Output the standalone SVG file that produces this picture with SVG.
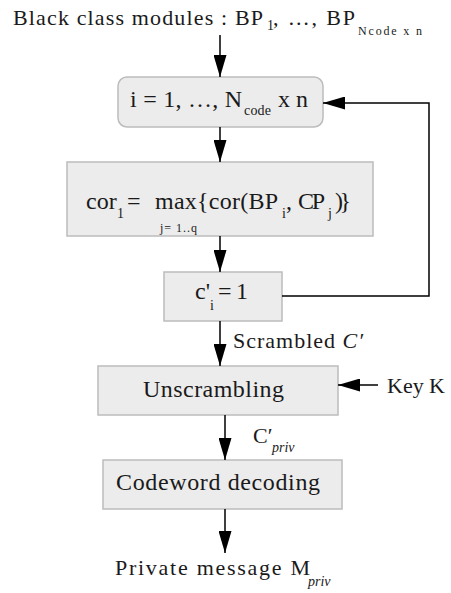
<svg xmlns="http://www.w3.org/2000/svg" width="451" height="593" viewBox="0 0 451 593">
<defs>
<marker id="ah" markerWidth="22" markerHeight="13" refX="22" refY="6.5" viewBox="0 0 22 13" orient="auto" markerUnits="userSpaceOnUse">
<path d="M0,0 L22,6.5 L0,13 Z" fill="#000"/>
</marker>
<style>
.box{fill:#ececec;stroke:#bcbcbc;stroke-width:1.5}
.t{font-family:"Liberation Serif","Times New Roman",serif;fill:#1a1a1a}
.m{font-size:24px}
.s{font-size:14px}
.xs{font-size:12px}
.it{font-style:italic}
.c{fill:none;stroke:#000;stroke-width:1.5}
</style>
</defs>
<rect width="451" height="593" fill="#fff"/>
<g id="title">
<text class="t" x="13" y="25" font-size="22" textLength="250" lengthAdjust="spacing">Black class modules : BP</text>
<text class="t s" x="267" y="30">1</text>
<text class="t" x="273" y="25" font-size="22" textLength="82" lengthAdjust="spacing">, …, BP</text>
<text class="t xs" x="358" y="35" textLength="64" lengthAdjust="spacing">Ncode x n</text>
</g>
<g id="loop">
<rect class="box" x="118" y="77" width="205" height="50" rx="9"/>
<text class="t m" x="130" y="107" textLength="112" lengthAdjust="spacing">i = 1, …, N</text>
<text class="t s" x="244" y="115" textLength="27" lengthAdjust="spacing">code</text>
<text class="t m" x="278" y="107" textLength="30" lengthAdjust="spacing">x n</text>
</g>
<g id="cor">
<rect class="box" x="67" y="162" width="306" height="74"/>
<text class="t m" x="86" y="209">cor</text>
<text class="t s" x="117" y="218">1</text>
<text class="t m" x="127" y="209">=</text>
<text class="t m" x="155" y="209" textLength="123" lengthAdjust="spacing">max{cor(BP</text>
<text class="t s" x="282" y="218">i</text>
<text class="t m" x="286" y="209">,</text>
<text class="t m" x="298" y="209" textLength="27" lengthAdjust="spacing">CP</text>
<text class="t s" x="328" y="218">j</text>
<text class="t m" x="335" y="209" textLength="16" lengthAdjust="spacing">)}</text>
<text class="t xs" x="160" y="232" textLength="37" lengthAdjust="spacing">j= 1..q</text>
</g>
<g id="set">
<rect class="box" x="164" y="272" width="118" height="49"/>
<text class="t m" x="195" y="299">c'</text>
<text class="t s" x="210" y="310">i</text>
<text class="t m" x="218" y="299" textLength="30" lengthAdjust="spacing">= 1</text>
</g>
<g id="unscrambling">
<rect class="box" x="98" y="366" width="240" height="49"/>
<text class="t m" x="143" y="397" textLength="141" lengthAdjust="spacing">Unscrambling</text>
</g>
<g id="decoding">
<rect class="box" x="103" y="460" width="239" height="49"/>
<text class="t m" x="116" y="490" textLength="204" lengthAdjust="spacing">Codeword decoding</text>
</g>
<g id="labels">
<text class="t" x="233" y="348" font-size="22" textLength="130" lengthAdjust="spacing">Scrambled <tspan class="it">C′</tspan></text>
<text class="t" x="387" y="393" font-size="22" textLength="58" lengthAdjust="spacing">Key K</text>
<text class="t" x="253" y="443" font-size="22">C′</text>
<text class="t s it" x="272" y="452">priv</text>
<text class="t" x="115" y="575" font-size="22" textLength="195" lengthAdjust="spacing">Private message M</text>
<text class="t s it" x="308" y="586">priv</text>
</g>
<g id="connectors">
<line class="c" x1="220" y1="35" x2="220" y2="77" marker-end="url(#ah)"/>
<line class="c" x1="220" y1="127" x2="220" y2="162" marker-end="url(#ah)"/>
<line class="c" x1="220" y1="236" x2="220" y2="272" marker-end="url(#ah)"/>
<polyline class="c" points="282,296 429,296 429,103 323,103" marker-end="url(#ah)"/>
<line class="c" x1="220" y1="321" x2="220" y2="366" marker-end="url(#ah)"/>
<line class="c" x1="378" y1="385" x2="338" y2="385" marker-end="url(#ah)"/>
<line class="c" x1="225" y1="415" x2="225" y2="460" marker-end="url(#ah)"/>
<line class="c" x1="225" y1="509" x2="225" y2="553" marker-end="url(#ah)"/>
</g>
</svg>
